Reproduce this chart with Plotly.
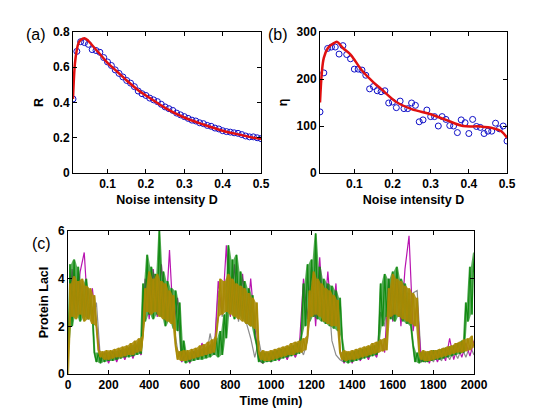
import plotly.graph_objects as go

# ---------------- Panel (a) data ----------------
D_pts = [round(0.01 * i, 2) for i in range(1, 51)]
R_pts = [0.42, 0.69, 0.745, 0.74, 0.73, 0.70, 0.695, 0.685, 0.655, 0.63,
         0.61, 0.585, 0.565, 0.545, 0.525, 0.51, 0.49, 0.465, 0.45, 0.44,
         0.425, 0.415, 0.405, 0.39, 0.375, 0.365, 0.355, 0.34, 0.33, 0.32,
         0.31, 0.30, 0.295, 0.285, 0.28, 0.27, 0.265, 0.255, 0.25, 0.24,
         0.235, 0.232, 0.228, 0.225, 0.218, 0.21, 0.205, 0.205, 0.20, 0.195]
D_fit_a = [0.01, 0.015, 0.02, 0.025, 0.03, 0.04, 0.05, 0.06, 0.08, 0.10, 0.12,
           0.15, 0.18, 0.20, 0.25, 0.30, 0.35, 0.40, 0.45, 0.48, 0.50]
R_fit = [0.42, 0.62, 0.70, 0.74, 0.755, 0.765, 0.75, 0.725, 0.675, 0.625, 0.585,
         0.525, 0.47, 0.44, 0.37, 0.315, 0.275, 0.24, 0.215, 0.20, 0.195]

# ---------------- Panel (b) data ----------------
eta_pts = [130, 213, 265, 268, 268, 253, 271, 252, 243, 221,
           221, 219, 208, 179, 184, 175, 173, 175, 149, 151,
           139, 153, 137, 137, 149, 144, 109, 113, 134, 120,
           120, 100, 120, 114, 101, 100, 86, 113, 107, 84,
           114, 99, 97, 84, 89, 89, 106, 94, 100, 68]
D_fit_b = [0.01, 0.015, 0.02, 0.03, 0.04, 0.05, 0.055, 0.07, 0.09, 0.12, 0.15,
           0.17, 0.21, 0.25, 0.30, 0.34, 0.385, 0.43, 0.465, 0.485, 0.50]
eta_fit = [150, 215, 245, 265, 273, 278, 279, 266, 252, 218, 193,
           179, 151, 136, 125, 113, 100, 99, 95, 89, 75]

# ---------------- Panel (c) data ----------------
t10 = list(range(0, 2001, 10))
t20 = list(range(0, 2001, 20))
olive = [0.0, 3.8, 2.4, 4.1, 2.3, 3.9, 2.5, 4.0, 2.2, 3.7, 2.3, 3.6, 2.1, 3.3, 2.0,
         1.0, 0.7, 0.95, 0.6, 1.0, 0.6, 1.0, 0.65, 1.05, 0.7, 1.1, 0.7, 1.15, 0.75, 1.2,
         0.8, 1.3, 0.8, 1.4, 0.9, 1.5, 0.95, 1.6,
         3.6, 2.6, 4.3, 2.5, 4.0, 2.6, 4.2, 2.4, 3.9, 2.3, 3.8, 2.2, 3.5, 2.1, 3.3,
         1.2, 0.6, 0.95, 0.55, 1.0, 0.55, 1.0, 0.6, 1.05, 0.65, 1.1, 0.7, 1.2, 0.75, 1.25,
         0.8, 1.35, 0.85, 1.45, 0.9, 1.6,
         2.4, 4.0, 2.5, 3.9, 2.6, 4.2, 2.5, 4.0, 2.4, 3.8, 2.3, 3.7, 2.2, 3.6, 2.1, 3.4,
         2.0, 3.2, 1.9, 3.0,
         0.9, 0.6, 1.0, 0.55, 0.95, 0.55, 1.0, 0.6, 1.05, 0.65, 1.1, 0.7, 1.15, 0.75, 1.2,
         0.8, 1.3, 0.8, 1.35, 0.9, 1.4, 0.9, 1.5, 1.0, 1.6,
         3.5, 2.4, 4.3, 2.5, 4.0, 2.4, 3.8, 2.2, 3.6, 2.1, 3.5, 2.0, 3.3, 2.0, 3.1,
         0.9, 0.6, 1.0, 0.55, 0.95, 0.6, 1.0, 0.6, 1.05, 0.65, 1.1, 0.7, 1.15, 0.75, 1.2,
         0.8, 1.3, 0.85, 1.35, 0.9, 1.45, 0.95, 1.5, 1.0,
         3.6, 2.4, 4.2, 2.5, 4.0, 2.4, 3.9, 2.3, 3.7, 2.2, 3.6, 2.1, 3.4, 2.0, 3.2,
         0.9, 0.6, 1.0, 0.55, 0.95, 0.55, 1.0, 0.6, 1.0, 0.65, 1.05, 0.7, 1.1, 0.75, 1.15,
         0.8, 1.2, 0.85, 1.3, 0.9, 1.35, 0.9, 1.45, 0.95, 1.5, 1.0, 1.6, 1.1]
green = [1.0, 4.6, 2.0, 4.8, 2.5, 4.5, 2.2, 3.7, 2.4, 4.0, 2.3, 3.2, 2.6,
         0.9, 0.5, 0.9, 0.45, 0.85, 0.5, 0.9, 0.55, 0.95, 0.55, 0.95, 0.6, 1.0, 0.65, 1.05,
         0.7, 1.1, 0.7, 1.2, 0.75, 1.25, 0.8, 1.4, 0.85,
         3.8, 2.2, 5.0, 2.5, 4.5, 2.3, 4.2, 2.5, 6.0, 2.4, 4.3, 2.0, 3.9, 2.2, 3.6, 1.9,
         3.5, 1.8, 3.0,
         0.6, 1.4, 0.45, 0.9, 0.5, 0.95, 0.55, 1.0, 0.6, 1.05, 0.6, 1.1, 0.65, 1.2, 0.7,
         1.3, 0.8, 1.5, 0.7, 1.8, 0.8, 2.5, 1.5,
         5.4, 2.6, 4.8, 2.3, 5.0, 2.5, 4.3, 2.3, 3.9, 2.1, 3.6, 2.0, 3.3, 1.6, 1.2,
         0.5, 0.9, 0.45, 0.9, 0.5, 0.9, 0.5, 0.95, 0.55, 1.0, 0.6, 1.05, 0.65, 1.1, 0.7,
         1.15, 0.75, 1.2, 0.8, 1.3, 0.85, 1.6,
         3.8, 2.0, 4.6, 2.2, 4.8, 2.4, 5.9, 2.3, 4.5, 2.2, 4.0, 2.1, 3.8, 2.0, 3.7, 1.9,
         3.5, 1.8, 3.2, 1.5,
         0.5, 0.9, 0.45, 0.9, 0.5, 0.95, 0.55, 1.0, 0.6, 1.05, 0.65, 1.1, 0.7, 1.15, 0.75,
         1.2, 0.8, 1.3,
         3.8, 2.0, 4.2, 2.4, 4.0, 2.3, 4.3, 2.2, 4.5, 2.4, 4.0, 2.2, 3.8, 2.1, 3.4, 2.0,
         1.2, 0.5, 0.9, 0.45, 0.9, 0.5, 0.9, 0.5, 0.95, 0.55, 1.0, 0.6, 1.0, 0.6, 1.05,
         0.65, 1.1, 0.7, 1.15, 0.75, 1.2, 0.8, 1.3, 0.85, 1.4, 0.9,
         3.0, 2.2, 4.5, 2.5, 5.1]
magenta = [1.5, 4.4, 2.6, 4.3, 5.1, 2.3, 3.6, 2.0,
           0.5, 0.9, 0.45, 0.95, 0.5, 1.0, 0.6, 1.1, 0.65, 1.2, 0.8,
           4.0, 2.3, 4.4, 2.4, 4.6, 2.2, 5.2, 2.0, 3.2,
           0.5, 0.9, 0.45, 0.95, 0.6, 1.3, 0.7, 1.2, 0.8,
           3.9, 2.5, 5.4, 2.4, 4.6, 2.3, 4.2, 2.1, 4.0, 2.0,
           0.6, 0.45, 0.9, 0.5, 0.95, 0.55, 1.0, 0.6, 1.1, 0.7, 1.2,
           4.0, 2.3, 4.5, 2.0, 4.9, 2.2, 4.3, 2.1, 3.8,
           1.0, 0.45, 0.9, 0.45, 0.95, 0.55, 1.0, 0.6, 1.1, 0.7, 1.4, 0.9,
           4.0, 2.2, 4.3, 2.0, 4.4, 5.8, 1.8, 3.0,
           0.5, 0.9, 0.45, 0.95, 0.5, 1.0, 0.55, 1.5, 0.6, 1.2, 0.7, 1.3, 0.75, 1.4]
gray = [1.0, 3.5, 2.4, 3.8, 2.3, 3.6, 2.2, 3.0,
        0.6, 0.9, 0.55, 0.95, 0.6, 1.0, 0.65, 1.1, 0.7, 1.2, 0.8,
        3.5, 2.5, 4.0, 2.4, 3.8, 2.3, 3.5, 2.1,
        1.0, 0.5, 0.9, 0.55, 0.95, 0.6, 1.0, 0.7, 1.7, 0.8,
        3.5, 2.4, 4.0, 2.4, 3.8, 2.2, 3.6, 2.1, 1.5,
        0.7, 1.4, 0.55, 0.9, 0.55, 0.95, 0.6, 1.0, 0.65, 1.1, 0.7, 1.2, 0.8, 1.4,
        3.8, 2.3, 4.0, 2.2, 3.7, 1.4,
        0.8, 0.6, 0.5, 0.9, 0.55, 0.95, 0.6, 1.0, 0.65, 1.1, 0.7,
        2.6, 2.0, 3.8, 2.4, 3.9, 2.2, 3.6, 2.1, 3.4, 3.5,
        0.6, 0.5, 0.9, 0.5, 0.9, 0.55, 1.0, 0.6, 1.0, 0.65, 1.1, 0.7, 1.2, 0.8]

xticks_ab = [0.1, 0.2, 0.3, 0.4, 0.5]
yticks_a = [0, 0.2, 0.4, 0.6, 0.8]
yticks_b = [0, 100, 200, 300]
xticks_c = list(range(0, 2001, 200))
yticks_c = [0, 2, 4, 6]

RED = "#e01010"
BLUE = "#1010c8"
FONT = "Liberation Sans, Arial, sans-serif"

fig = go.Figure()
fig.add_trace(go.Scatter(x=D_pts, y=R_pts, mode="markers", xaxis="x", yaxis="y",
                         marker=dict(symbol="circle-open", size=6, color=BLUE, line=dict(width=1))))
fig.add_trace(go.Scatter(x=D_fit_a, y=R_fit, mode="lines", line_shape="spline", xaxis="x", yaxis="y",
                         line=dict(color=RED, width=2.5)))
fig.add_trace(go.Scatter(x=D_pts, y=eta_pts, mode="markers", xaxis="x2", yaxis="y2",
                         marker=dict(symbol="circle-open", size=6, color=BLUE, line=dict(width=1))))
fig.add_trace(go.Scatter(x=D_fit_b, y=eta_fit, mode="lines", line_shape="spline", xaxis="x2", yaxis="y2",
                         line=dict(color=RED, width=2.5)))


def band(tt, vv):
    """Filled envelope between consecutive samples of a noisy trace."""
    xm = [(tt[i] + tt[i + 1]) / 2 for i in range(len(tt) - 1)]
    up = [max(vv[i], vv[i + 1]) for i in range(len(vv) - 1)]
    lo = [min(vv[i], vv[i + 1]) for i in range(len(vv) - 1)]
    return xm + xm[::-1], up + lo[::-1]


for tt, vv, col, w, fop in [(t20, gray, "#8c8c8c", 1.2, 0),
                            (t20, magenta, "#b814b0", 1.2, 0),
                            (t10, green, "#128a12", 1.2, 0.7),
                            (t10, olive, "#a88a04", 1.2, 0.9)]:
    if fop:
        bx, by = band(tt, vv)
        fig.add_trace(go.Scatter(x=bx, y=by, mode="lines", fill="toself", fillcolor=col,
                                 opacity=fop, xaxis="x3", yaxis="y3", line=dict(width=0, color=col)))
    fig.add_trace(go.Scatter(x=tt, y=vv, mode="lines", xaxis="x3", yaxis="y3",
                             line=dict(color=col, width=w)))

tickfont = dict(family=FONT, size=12, color="black", weight="bold")
titlefont = dict(family=FONT, size=12.5, color="black", weight="bold")
common = dict(showline=True, linecolor="black", linewidth=1, mirror="ticks", ticks="inside",
              ticklen=4, tickcolor="black", showgrid=False, zeroline=False, tickfont=tickfont,
              automargin=False)

OFF = 8  # page body margin
W, H = 552, 412
def dx(a, b):
    return [(a - OFF) / W, (b - OFF) / W]
def dy(top, bottom):
    return [1 - (bottom - OFF) / H, 1 - (top - OFF) / H]
def px(x):
    return (x - OFF) / W
def py(y):
    return 1 - (y - OFF) / H

lab = dict(xref="paper", yref="paper", showarrow=False, xanchor="center", yanchor="middle",
           font=dict(family=FONT, size=16, color="black"))

fig.update_layout(
    width=W, height=H, margin=dict(l=0, r=0, t=0, b=0, autoexpand=False), showlegend=False,
    paper_bgcolor="white", plot_bgcolor="white",
    xaxis=dict(domain=dx(73, 261), range=[0.01, 0.5], tickvals=xticks_ab, anchor="y",
               title=dict(text="Noise intensity D", font=titlefont, standoff=4), **common),
    yaxis=dict(domain=dy(32, 173), range=[0, 0.8], tickvals=yticks_a, anchor="x",
               title=dict(text="R", font=titlefont, standoff=6), **common),
    xaxis2=dict(domain=dx(320, 507), range=[0.01, 0.5], tickvals=xticks_ab, anchor="y2",
                title=dict(text="Noise intensity D", font=titlefont, standoff=4), **common),
    yaxis2=dict(domain=dy(32, 173), range=[0, 300], tickvals=yticks_b, anchor="x2",
                title=dict(text="η", font=titlefont, standoff=6), **common),
    xaxis3=dict(domain=dx(68, 474), range=[0, 2000], tickvals=xticks_c, anchor="y3",
                title=dict(text="Time (min)", font=titlefont, standoff=4), **common),
    yaxis3=dict(domain=dy(231, 374), range=[0, 6], tickvals=yticks_c, anchor="x3",
                title=dict(text="Protein LacI", font=titlefont, standoff=6), **common),
    annotations=[
        dict(text="(a)", x=px(36), y=py(35), **lab),
        dict(text="(b)", x=px(278), y=py(35), **lab),
        dict(text="(c)", x=px(41), y=py(243), **lab),
    ],
)

fig.write_html("out.html")
